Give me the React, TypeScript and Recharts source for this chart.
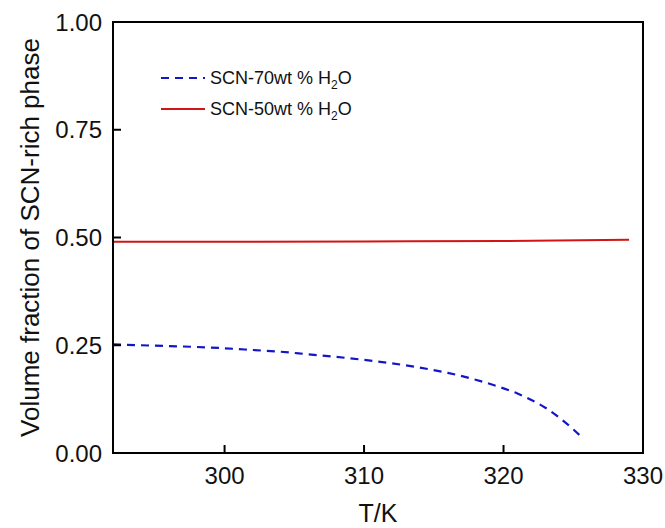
import React from 'react';
import {
  LineChart,
  Line,
  XAxis,
  YAxis,
  ReferenceArea,
} from 'recharts';

// SCN-70wt % H2O (dashed blue)
const temps70 = [292, 294, 296, 298, 300, 302, 304, 306, 308, 310, 312, 314, 316, 318, 320, 321, 322, 323, 324, 325, 325.5];
const frac70 = [0.252, 0.25, 0.248, 0.246, 0.243, 0.239, 0.235, 0.229, 0.223, 0.216, 0.208, 0.198, 0.186, 0.17, 0.15, 0.138, 0.123, 0.105, 0.082, 0.055, 0.04];

// SCN-50wt % H2O (solid red)
const temps50 = [292, 300, 310, 320, 329];
const frac50 = [0.49, 0.49, 0.491, 0.492, 0.495];

const xTicks = [300, 310, 320, 330];
const yTicks = [0, 0.25, 0.5, 0.75, 1];

const data70 = temps70.map((t, i) => ({ t, v: frac70[i] }));
const data50 = temps50.map((t, i) => ({ t, v: frac50[i] }));

const FONT = '"Liberation Sans", Arial, sans-serif';
const BLUE = '#1414c8';
const RED = '#d21414';

const legendItems = [
  { label: 'SCN-70wt % H', color: BLUE, dash: '8 6' },
  { label: 'SCN-50wt % H', color: RED, dash: undefined },
];

// legend is drawn over the plot, so it sits outside recharts' layout
const LegendBox = () => (
  <div style={{ position: 'absolute', left: 161, top: 62, fontFamily: FONT, fontSize: 18, color: '#111' }}>
    {legendItems.map((it) => (
      <div key={it.label} style={{ display: 'flex', alignItems: 'center', height: 31 }}>
        <svg width={44} height={10} style={{ marginRight: 5 }}>
          <line x1={0} y1={5} x2={44} y2={5} stroke={it.color} strokeWidth={2} strokeDasharray={it.dash} />
        </svg>
        <span style={{ lineHeight: '20px' }}>
          {it.label}
          <sub style={{ fontSize: 12, lineHeight: 0 }}>2</sub>O
        </span>
      </div>
    ))}
  </div>
);

export default function App() {
  return (
    <div style={{ position: 'absolute', left: 0, top: 0, width: 665, height: 528 }}>
      <LineChart width={665} height={528} margin={{ top: 22, right: 22, bottom: 0, left: 0 }}>
        <XAxis
          type="number"
          dataKey="t"
          domain={[292, 330]}
          ticks={xTicks}
          allowDataOverflow
          height={75}
          tickSize={-8}
          tickMargin={-2}
          stroke="#000"
          strokeWidth={2}
          tick={{ fill: '#111', fontSize: 24, fontFamily: FONT, dy: 24 }}
          label={{ value: 'T/K', position: 'insideBottom', offset: 0, fill: '#111', fontSize: 25, fontFamily: FONT, dy: -6 }}
        />
        <YAxis
          type="number"
          domain={[0, 1]}
          ticks={yTicks}
          width={113}
          tickSize={-8}
          tickMargin={19}
          stroke="#000"
          strokeWidth={2}
          tickFormatter={(v: number) => v.toFixed(2)}
          tick={{ fill: '#111', fontSize: 24, fontFamily: FONT }}
          label={{
            value: 'Volume fraction of SCN-rich phase',
            angle: -90,
            position: 'insideLeft',
            offset: 0,
            dx: 30,
            style: { textAnchor: 'middle' },
            fill: '#111',
            fontSize: 26,
            fontFamily: FONT,
          }}
        />
        <ReferenceArea x1={292} x2={330} y1={0} y2={1} fill="none" fillOpacity={0} stroke="#000" strokeWidth={2} ifOverflow="visible" />
        <Line data={data70} dataKey="v" type="monotone" stroke={BLUE} strokeWidth={2.2} strokeDasharray="8 6" dot={false} isAnimationActive={false} />
        <Line data={data50} dataKey="v" type="monotone" stroke={RED} strokeWidth={2} dot={false} isAnimationActive={false} />
      </LineChart>
      <LegendBox />
    </div>
  );
}
